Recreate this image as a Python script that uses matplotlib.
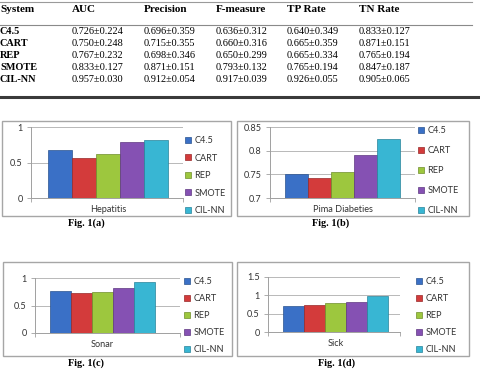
import matplotlib
matplotlib.use("Agg")
import matplotlib.pyplot as plt
from matplotlib.patches import Rectangle, Patch
from matplotlib.lines import Line2D
import numpy as np

W, H = 481, 378

# ---------------- data ----------------
systems = ["C4.5", "CART", "REP", "SMOTE", "CIL-NN"]
metrics = ["AUC", "Precision", "F-measure", "TP Rate", "TN Rate"]
auc_mean = [0.726, 0.750, 0.767, 0.833, 0.957]
auc_std = [0.224, 0.248, 0.232, 0.127, 0.030]
prec_mean = [0.696, 0.715, 0.698, 0.871, 0.912]
prec_std = [0.359, 0.355, 0.346, 0.151, 0.054]
f_mean = [0.636, 0.660, 0.650, 0.793, 0.917]
f_std = [0.312, 0.316, 0.299, 0.132, 0.039]
tp_mean = [0.640, 0.665, 0.665, 0.765, 0.926]
tp_std = [0.349, 0.359, 0.334, 0.194, 0.055]
tn_mean = [0.833, 0.871, 0.765, 0.847, 0.905]
tn_std = [0.127, 0.151, 0.194, 0.187, 0.065]

datasets = ["Hepatitis", "Pima Diabeties", "Sonar", "Sick"]
hepatitis = [0.67, 0.56, 0.62, 0.79, 0.82]
pima = [0.751, 0.743, 0.755, 0.791, 0.824]
sonar = [0.76, 0.72, 0.75, 0.81, 0.93]
sick = [0.72, 0.75, 0.78, 0.83, 0.97]
captions = ["Fig. 1(a)", "Fig. 1(b)", "Fig. 1(c)", "Fig. 1(d)"]
yticks_a = [0, 0.5, 1]
yticks_b = [0.7, 0.75, 0.8, 0.85]
yticks_c = [0, 0.5, 1]
yticks_d = [0, 0.5, 1, 1.5]

colors = ["#3A70C6", "#D33B3B", "#9DC73E", "#8551B3", "#38B6D3"]
edges = ["#2A538F", "#972828", "#6F8E2B", "#5E3881", "#27839A"]

fig = plt.figure(figsize=(W / 100, H / 100), dpi=100)


def fx(x):
    return x / W


def fy(y):
    return 1 - y / H


# ---------------- table ----------------
serif = "Liberation Serif"
fs_h = 8.0
fs_t = 7.4
col_x = [0, 72, 144, 216, 287, 359]
fig.add_artist(Line2D([fx(0), fx(472)], [fy(2), fy(2)], color="#9a9a9a", lw=0.8))
fig.add_artist(Line2D([fx(0), fx(472)], [fy(25), fy(25)], color="#8a8a8a", lw=0.8))
fig.add_artist(Line2D([fx(0), fx(481)], [fy(97), fy(97)], color="#3a3a3a", lw=2.2))
fig.text(fx(col_x[0]), fy(9.5), "System", family=serif, weight="bold", size=fs_h, va="center")
for i, m in enumerate(metrics):
    fig.text(fx(col_x[i + 1]), fy(9.5), m, family=serif, weight="bold", size=fs_h, va="center")
cols = [(auc_mean, auc_std), (prec_mean, prec_std), (f_mean, f_std),
        (tp_mean, tp_std), (tn_mean, tn_std)]
row_y = [32, 44, 55.5, 67.5, 79]
for r, s in enumerate(systems):
    fig.text(fx(col_x[0]), fy(row_y[r]), s, family=serif, weight="bold", size=fs_t, va="center")
    for c, (mn, sd) in enumerate(cols):
        fig.text(fx(col_x[c + 1]), fy(row_y[r]), f"{mn[r]:.3f}\u00b1{sd[r]:.3f}",
                 family=serif, size=fs_t, va="center")

# ---------------- charts ----------------
sans = "Lato"
fs_c = 6.6
panels = [
    dict(vals=hepatitis, ticks=yticks_a, ylim=(0, 1), box=(2, 121, 231, 216),
         ax=(31, 127, 183, 198), bar0=48, barw=24, leg=(185, 136), ls=0.93, cap=(86, 223)),
    dict(vals=pima, ticks=yticks_b, ylim=(0.7, 0.85), box=(237, 121, 469, 216),
         ax=(270, 127, 415, 198), bar0=285, barw=23, leg=(418, 126), ls=1.2, cap=(331, 223)),
    dict(vals=sonar, ticks=yticks_c, ylim=(0, 1), box=(3, 262, 232, 356),
         ax=(35, 278, 180, 333), bar0=50, barw=21, leg=(184, 277), ls=0.87, cap=(86, 363.5)),
    dict(vals=sick, ticks=yticks_d, ylim=(0, 1.5), box=(237, 262, 469, 356),
         ax=(268, 277, 400, 332), bar0=283, barw=21, leg=(416, 277), ls=0.87, cap=(337, 363.5)),
]

for k, p in enumerate(panels):
    bx0, by0, bx1, by1 = p["box"]
    fig.add_artist(Rectangle((fx(bx0), fy(by1)), (bx1 - bx0) / W, (by1 - by0) / H,
                             fill=False, ec="#a6a6a6", lw=1.0))
    l, t, r, b = p["ax"]
    ax = fig.add_axes([fx(l), fy(b), (r - l) / W, (b - t) / H])
    unit = p["barw"]
    left_pad = (p["bar0"] - l) / unit
    total = (r - l) / unit
    xmin = -0.5 - left_pad
    ax.set_xlim(xmin, xmin + total)
    ax.set_ylim(*p["ylim"])
    x = np.arange(len(systems))
    base = p["ylim"][0]
    heights = [v - base for v in p["vals"]]
    ax.bar(x, heights, width=0.97, bottom=base, color=colors, edgecolor=edges,
           linewidth=0.5, zorder=3)
    ax.set_yticks(p["ticks"])
    ax.set_yticklabels([f"{v:g}" for v in p["ticks"]], family=sans, size=fs_c, color="#333333")
    ax.grid(axis="y", color="#b8b8b8", lw=0.7, zorder=0)
    ax.set_axisbelow(True)
    for sp in ["top", "right"]:
        ax.spines[sp].set_visible(False)
    for sp in ["left", "bottom"]:
        ax.spines[sp].set_color("#a0a0a0")
        ax.spines[sp].set_linewidth(0.7)
    ax.tick_params(axis="y", length=3, width=0.6, color="#a0a0a0", pad=3)
    ax.set_xticks([2])
    ax.set_xticklabels([datasets[k]], family=sans, size=fs_c, color="#333333")
    ax.set_xticks([xmin, xmin + total], minor=True)
    ax.tick_params(axis="x", which="major", length=0, pad=5)
    ax.tick_params(axis="x", which="minor", length=3, width=0.6, color="#a0a0a0")
    handles = [Patch(facecolor=c, edgecolor=e, lw=0.5) for c, e in zip(colors, edges)]
    lx, ly = p["leg"]
    ax.legend(handles, systems, loc="upper left", bbox_to_anchor=(fx(lx), fy(ly)),
              bbox_transform=fig.transFigure, frameon=False,
              prop=dict(family=sans, size=fs_c), handlelength=0.65, handleheight=0.65,
              handletextpad=0.35, labelspacing=p["ls"], borderaxespad=0, borderpad=0,
              labelcolor="#333333")
    fig.text(fx(p["cap"][0]), fy(p["cap"][1]), captions[k], family=serif, weight="bold",
             size=fs_t, ha="center", va="center")

fig.savefig("out.png", dpi=100)
